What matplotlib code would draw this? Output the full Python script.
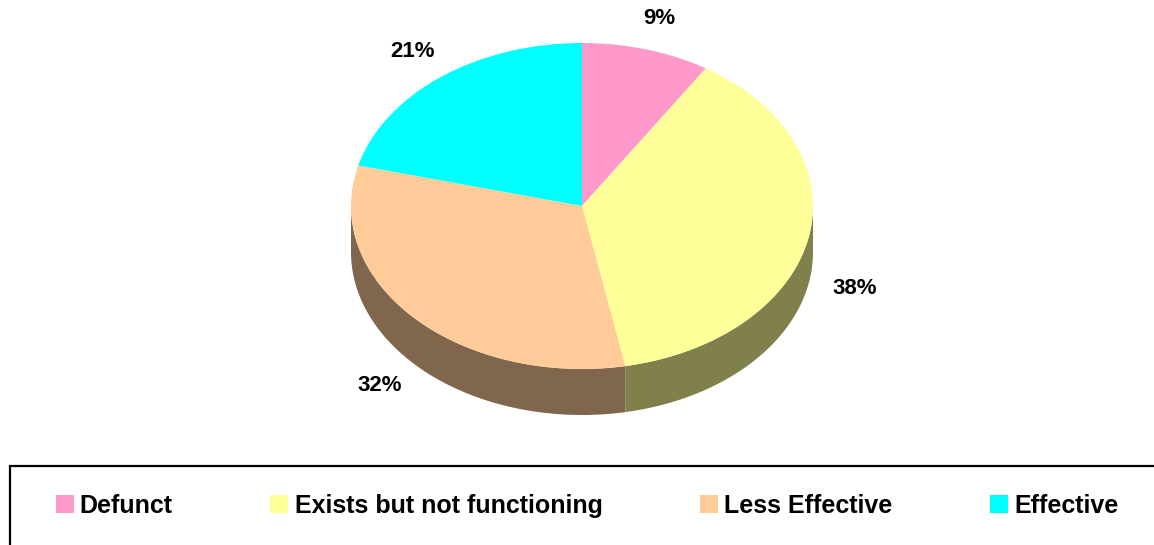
import numpy as np
import matplotlib
matplotlib.use("Agg")
import matplotlib.pyplot as plt
from matplotlib.patches import Polygon, Rectangle

# data
categories = ["Defunct", "Exists but not functioning", "Less Effective", "Effective"]
shares = [9, 38, 32, 21]
top_colors = ["#FF99CC", "#FFFF99", "#FFCC99", "#00FFFF"]
side_colors = ["#804C66", "#80804C", "#80664C", "#008080"]

W, H = 1154, 545
fig = plt.figure(figsize=(W / 100, H / 100), dpi=100)

# pie centre at (582, 206) px, radii 231 x 163 px
cx, cy, rx, ry = 582, 206, 231, 163
xlim = (-1.5, 1.5)
ylim = (-1.55, 1.25)
left = cx + xlim[0] * rx
ax = fig.add_axes([left / W, 1 - (cy - ylim[0] * ry) / H,
                   (xlim[1] - xlim[0]) * rx / W, (ylim[1] - ylim[0]) * ry / H])
depth = 46 / ry

# side walls for the front half
fracs = np.array(shares) / sum(shares)
ends = 90 - 360 * np.cumsum(fracs)
starts = np.concatenate([[90], ends[:-1]])
for a0, a1, col in zip(starts, ends, side_colors):
    lo, hi = max(a1, -180), min(a0, 0)
    if lo >= hi:
        continue
    t = np.radians(np.linspace(lo, hi, 100))
    xs = np.cos(t)
    ys = np.sin(t)
    pts = np.concatenate([np.column_stack([xs, ys]),
                          np.column_stack([xs[::-1], ys[::-1] - depth])])
    ax.add_patch(Polygon(pts, closed=True, facecolor=col, edgecolor="none", zorder=1))

wedges, _ = ax.pie(shares, colors=top_colors, startangle=90, counterclock=False,
                   radius=1, wedgeprops=dict(linewidth=0))
for w in wedges:
    w.set_zorder(2)

# percentage labels
for a0, a1, v in zip(starts, ends, shares):
    mid = np.radians((a0 + a1) / 2)
    x = 1.2 * np.cos(mid)
    y = 1.2 * np.sin(mid)
    if np.sin(mid) < 0:
        y -= depth
    ax.text(x, y, f"{v}%", ha="center", va="center",
            fontsize=16, fontweight="bold", family="Liberation Sans", zorder=3)

ax.set_xlim(*xlim)
ax.set_ylim(*ylim)
ax.set_aspect("auto")
ax.axis("off")

# legend box
fig.patches.append(Rectangle((10 / W, -0.02), 1.0, (545 - 466) / H + 0.02,
                             transform=fig.transFigure, fill=False,
                             edgecolor="black", linewidth=1.6, clip_on=False))
fig.legend(wedges, categories, loc="center", ncol=4,
           bbox_to_anchor=(587 / W, (545 - 506) / H), frameon=False,
           prop=dict(family="Liberation Sans", weight="bold", size=18),
           handlelength=0.72, handleheight=0.72, handletextpad=0.25,
           columnspacing=3.9)

fig.savefig("out.png", dpi=100)
